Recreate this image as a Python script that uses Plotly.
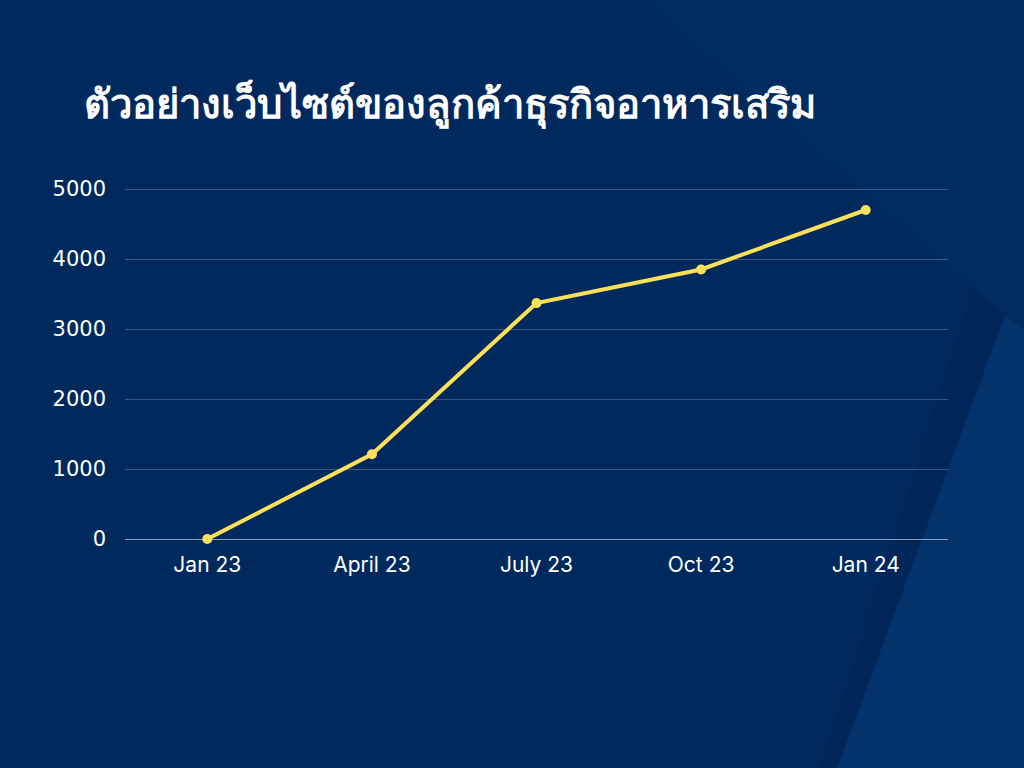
import plotly.graph_objects as go

title_text = "ตัวอย่างเว็บไซต์ของลูกค้าธุรกิจอาหารเสริม"
categories = ["Jan 23", "April 23", "July 23", "Oct 23", "Jan 24"]
values = [0, 1210, 3370, 3850, 4700]
y_ticks = [0, 1000, 2000, 3000, 4000, 5000]

BG = "#002a5e"
LIGHT_TOP = "#012c61"
LIGHT = "#03336a"
DARK = "#00265a"
YELLOW = "#fde05a"

fig = go.Figure()
fig.add_trace(go.Scatter(
    x=categories, y=values, mode="lines+markers",
    line=dict(color=YELLOW, width=4),
    marker=dict(color=YELLOW, size=10),
    cliponaxis=False, hoverinfo="skip",
))

def path_from(points):
    s = ""
    for i, (x, y) in enumerate(points):
        s += ("M" if i == 0 else "L") + f" {x} {y} "
    return s + "Z"

W, H = 1024, 768
ml, mr, mt, mb = 125, 76, 180, 229
pw, ph = W - ml - mr, H - mt - mb
y_top = 5000 * ph / 350.0

def to_paper(pts):
    return [((x - ml) / pw, (H - mb - y) / ph) for x, y in pts]

top_pts = to_paper([(643, 0), (1024, 0), (1024, 330), (1005, 315)])
light_pts = to_paper([(1005, 315), (1024, 330), (1024, 768), (837, 768)])
dark_pts = to_paper([(973, 287), (1005, 315), (837, 768), (820, 768)])

fig.update_layout(shapes=[
    dict(type="path", xref="paper", yref="paper", layer="below",
         path=path_from(top_pts), fillcolor=LIGHT_TOP, line=dict(width=0)),
    dict(type="path", xref="paper", yref="paper", layer="below",
         path=path_from(light_pts), fillcolor=LIGHT, line=dict(width=0)),
    dict(type="path", xref="paper", yref="paper", layer="below",
         path=path_from(dark_pts), fillcolor=DARK, line=dict(width=0)),
])

fig.update_layout(
    width=W, height=H,
    paper_bgcolor=BG, plot_bgcolor="rgba(0,0,0,0)",
    margin=dict(l=ml, r=mr, t=mt, b=mb),
    showlegend=False,
    font=dict(family="Inter, Noto Sans, sans-serif", color="white", size=17),
    xaxis=dict(
        type="category", range=[-0.5, 4.5], showgrid=False,
        showline=False, zeroline=False, ticks="",
        tickfont=dict(size=21, color="white", family="Inter, sans-serif"),
        ticklabelstandoff=11, fixedrange=True,
    ),
    yaxis=dict(
        range=[0, y_top], tickvals=y_ticks, ticks="",
        showgrid=True, gridcolor="rgba(255,255,255,0.22)", gridwidth=1,
        zeroline=True, zerolinecolor="rgba(255,255,255,0.55)", zerolinewidth=1,
        showline=False,
        tickfont=dict(size=21, color="white", family="DejaVu Sans, sans-serif"),
        ticklabelstandoff=18, fixedrange=True,
    ),
    annotations=[dict(
        text="<b>" + title_text + "</b>", xref="paper", yref="paper",
        x=(82 - ml) / pw, y=(H - mb - 103) / ph, xanchor="left", yanchor="middle",
        showarrow=False, font=dict(size=40, color="white",
                                   family="Noto Sans, Noto Sans CJK SC, sans-serif"),
    )],
)

fig.write_html("out.html", config={"displayModeBar": False},
               post_script="document.body.style.margin='0';")
